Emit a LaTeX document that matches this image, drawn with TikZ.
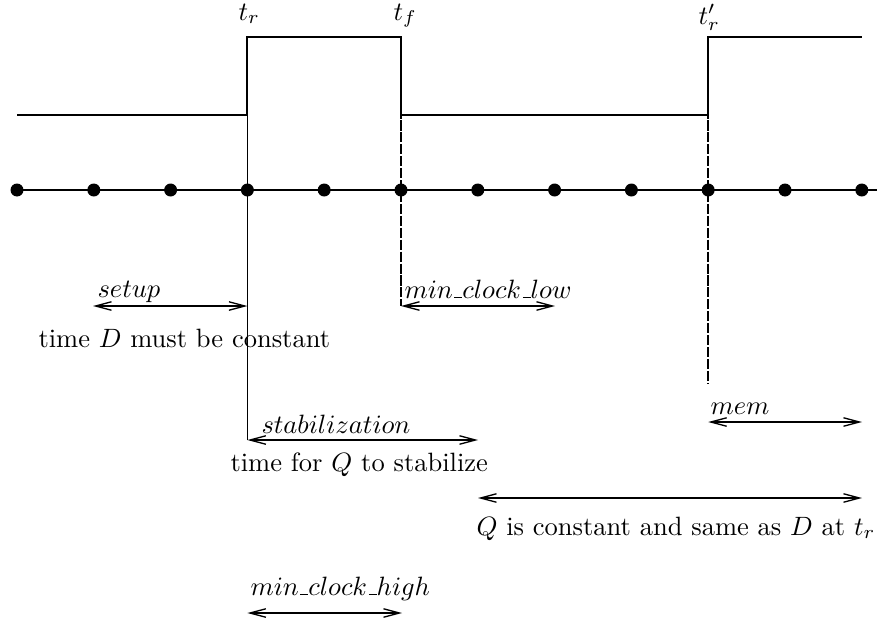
\documentclass[tikz,border=0pt]{standalone}
\usetikzlibrary{arrows.meta}
\newcommand\usc{\kern.06em\vbox{\hrule width .3em}}
\begin{document}
\begin{tikzpicture}[x=0.3774pt,y=-0.3774pt,
  wave/.style={line width=0.75pt},
  dotnode/.style={circle,fill=black,inner sep=0pt,minimum size=4.9pt},
  span/.style={line width=0.5pt,{Straight Barb[length=6pt,width=3.2pt]}-{Straight Barb[length=6pt,width=3.2pt]}},
  guide/.style={line width=0.6pt},
  dguide/.style={line width=0.55pt,dash pattern=on 3.8pt off 0.7pt},
  lbl/.style={inner sep=0pt,anchor=base west}]
\useasboundingbox (0,0) rectangle (882,626);
% timeline dots
\foreach \i in {0,...,11} \node[dotnode] (d\i) at ({17+76.8*\i},190) {};
\coordinate (tlend) at (877,190);
\draw[wave] (d0.center) -- (tlend);
% clock waveform
\coordinate (low) at (17,115);
\coordinate (top) at (0,37);
\coordinate (clkend) at (862,37);
\draw[wave] (low) -- (d3 |- low) -- (d3 |- top) -- (d5 |- top) -- (d5 |- low)
  -- (d9 |- low) -- (d9 |- top) -- (clkend);
% edge labels
\node[lbl] (tr) at (238,20) {$t_r$};
\node[lbl] (tf) at (393,20) {$t_f$};
\node[lbl] (trp) at (698,24) {$t^{\prime}_r$};
% arrow end points
\coordinate (setupL) at (93,306);
\coordinate (setupR) at (d3 |- setupL);
\coordinate (mclL) at (d5 |- setupL);
\coordinate (mclR) at (555,306);
\coordinate (stabL) at (d3 |- 0,440);
\coordinate (stabR) at (478,440);
\coordinate (memL) at (d9 |- 0,422);
\coordinate (memR) at (862,422);
\coordinate (longL) at (478,498);
\coordinate (longR) at (862,498);
\coordinate (mchL) at (d3 |- 0,613);
\coordinate (mchR) at (402,613);
\coordinate (dashend) at (d9 |- 0,383);
% vertical guides
\draw[guide] (d3 |- top) -- (stabL);
\draw[dguide] (d5 |- top) -- (mclL);
\draw[dguide] (d9 |- top) -- (dashend);
% span arrows
\draw[span] (setupL) -- (setupR);
\draw[span] (mclL) -- (mclR);
\draw[span] (stabL) -- (stabR);
\draw[span] (memL) -- (memR);
\draw[span] (longL) -- (longR);
\draw[span] (mchL) -- (mchR);
% labels
\node[lbl] (setupT) at (97,297) {$setup$};
\node[lbl] (mclT) at (404,298) {$min\usc clock\usc low$};
\node[lbl] (stabT) at (261,433) {$stabilization$};
\node[lbl] (memT) at (710,414) {$mem$};
\node[lbl] (mchT) at (250,595) {$min\usc clock\usc high$};
\node[lbl] (setupD) at (38,347) {time $D$ must be constant};
\node[lbl] (stabD) at (230,471) {time for $Q$ to stabilize};
\node[lbl] (longD) at (476,535) {$Q$ is constant and same as $D$ at $t_r$};
\end{tikzpicture}
\end{document}
